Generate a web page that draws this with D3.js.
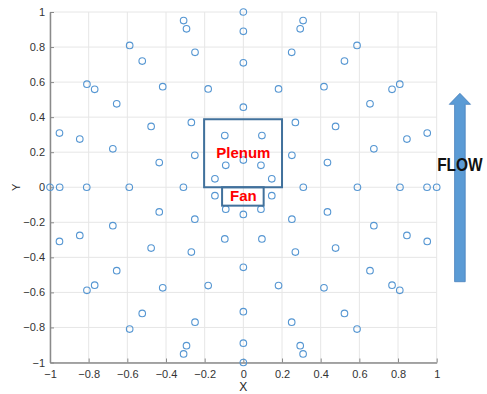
<!DOCTYPE html>
<html>
<head>
<meta charset="utf-8">
<script src="https://cdn.jsdelivr.net/npm/d3@7"></script>
<style>
  body { margin: 0; background: #fff; }
  svg { display: block; }
  .tick text { font-family: "Liberation Sans Narrow", "Arial Narrow", "Liberation Sans", sans-serif; font-size: 11px; fill: #333; }
  .axis-label { font-family: "Liberation Sans", Arial, sans-serif; font-size: 11px; fill: #262626; }
</style>
</head>
<body>
<div id="chart"></div>
<script>
// probe positions, one ring per array ([x, y])
const ring100 = [[1, 0], [0.951, 0.309], [0.809, 0.588], [0.588, 0.809], [0.309, 0.951], [0, 1], [-0.309, 0.951], [-0.588, 0.809], [-0.809, 0.588], [-0.951, 0.309],
  [-1, 0], [-0.951, -0.309], [-0.809, -0.588], [-0.588, -0.809], [-0.309, -0.951], [0, -1], [0.309, -0.951], [0.588, -0.809], [0.809, -0.588], [0.951, -0.309]];
const ring095 = [[0.95, 0], [0.769, 0.559], [0.294, 0.904], [-0.294, 0.904], [-0.769, 0.559], [-0.95, 0], [-0.769, -0.559], [-0.294, -0.904], [0.294, -0.904], [0.769, -0.559]];
const ring089 = [[0.846, 0.275], [0.523, 0.72], [0, 0.89], [-0.523, 0.72], [-0.846, 0.275], [-0.846, -0.275], [-0.523, -0.72], [0, -0.89], [0.523, -0.72], [0.846, -0.275]];
const ring081 = [[0.81, 0], [0.655, 0.476], [0.25, 0.77], [-0.25, 0.77], [-0.655, 0.476], [-0.81, 0], [-0.655, -0.476], [-0.25, -0.77], [0.25, -0.77], [0.655, -0.476]];
const ring071 = [[0.675, 0.219], [0.417, 0.574], [0, 0.71], [-0.417, 0.574], [-0.675, 0.219], [-0.675, -0.219], [-0.417, -0.574], [0, -0.71], [0.417, -0.574], [0.675, -0.219]];
const ring059 = [[0.59, 0], [0.477, 0.347], [0.182, 0.561], [-0.182, 0.561], [-0.477, 0.347], [-0.59, 0], [-0.477, -0.347], [-0.182, -0.561], [0.182, -0.561], [0.477, -0.347]];
const ring046 = [[0.435, 0.141], [0.269, 0.37], [0, 0.457], [-0.269, 0.37], [-0.435, 0.141], [-0.435, -0.141], [-0.269, -0.37], [0, -0.457], [0.269, -0.37], [0.435, -0.141]];
const ring031 = [[0.31, 0], [0.251, 0.182], [0.096, 0.295], [-0.096, 0.295], [-0.251, 0.182], [-0.31, 0], [-0.251, -0.182], [-0.096, -0.295], [0.096, -0.295], [0.251, -0.182]];
const ring016 = [[0.147, 0.048], [0.091, 0.125], [0, 0.155], [-0.091, 0.125], [-0.147, 0.048], [-0.147, -0.048], [-0.091, -0.125], [0, -0.155], [0.091, -0.125], [0.147, -0.048]];

// annotation boxes in data units: [x0, x1, y0, y1]
const plenumBox = [-0.203, 0.2, 0, 0.388];
const fanBox = [-0.11, 0.105, -0.105, 0];
const labels = [
  { text: "Plenum", x: 0, y: 0.165 },
  { text: "Fan", x: 0, y: -0.077 }
];
// flow arrow: centre x, tip, head base, tail (data units)
const flowArrow = { x: 1.12, tip: 0.536, head: 0.473, tail: -0.539, shaftHalf: 0.0275, headHalf: 0.055 };

const width = 487, height = 394;
const margin = { top: 12, right: 50.3, bottom: 31.5, left: 50 };
const w = width - margin.left - margin.right;
const h = height - margin.top - margin.bottom;

const svg = d3.select("#chart").append("svg")
  .attr("width", width)
  .attr("height", height);

const g = svg.append("g").attr("transform", `translate(${margin.left},${margin.top})`);
const xScale = d3.scaleLinear().domain([-1, 1]).range([0, w]);
const yScale = d3.scaleLinear().domain([-1, 1]).range([h, 0]);
const ticks = xScale.ticks(10);
const fmt = d3.format("");

// grid
g.append("g").selectAll("line.gx")
  .data(ticks)
  .enter().append("line")
  .attr("x1", d => xScale(d)).attr("x2", d => xScale(d))
  .attr("y1", 0).attr("y2", h)
  .attr("stroke", "#e6e6e6").attr("stroke-width", 1);
g.append("g").selectAll("line.gy")
  .data(ticks)
  .enter().append("line")
  .attr("x1", 0).attr("x2", w)
  .attr("y1", d => yScale(d)).attr("y2", d => yScale(d))
  .attr("stroke", "#e6e6e6").attr("stroke-width", 1);

// axes, ticks pointing inward
const xAxis = g.append("g")
  .attr("transform", `translate(0,${h})`)
  .call(d3.axisBottom(xScale).tickValues(ticks).tickFormat(fmt).tickSizeInner(-4).tickSizeOuter(0).tickPadding(8));
const yAxis = g.append("g")
  .call(d3.axisLeft(yScale).tickValues(ticks).tickFormat(fmt).tickSizeInner(-4).tickSizeOuter(0).tickPadding(5));
[xAxis, yAxis].forEach(a => {
  a.select(".domain").attr("stroke", "#8a8a8a").attr("stroke-width", 1.5);
  a.selectAll(".tick line").attr("stroke", "#8a8a8a");
});

svg.append("text")
  .attr("class", "axis-label")
  .attr("x", margin.left + xScale(0))
  .attr("y", 391)
  .attr("text-anchor", "middle")
  .style("font-size", "12px")
  .text("X");
svg.append("text")
  .attr("class", "axis-label")
  .attr("transform", `translate(20,${margin.top + yScale(0)}) rotate(-90)`)
  .attr("text-anchor", "middle")
  .text("Y");

// probes
const rings = [ring100, ring095, ring089, ring081, ring071, ring059, ring046, ring031, ring016];
g.append("g").selectAll("g.ring")
  .data(rings)
  .enter().append("g")
  .selectAll("circle")
  .data(d => d)
  .enter().append("circle")
  .attr("cx", d => xScale(d[0]))
  .attr("cy", d => yScale(d[1]))
  .attr("r", 3.3)
  .attr("fill", "none")
  .attr("stroke", "#5596d2")
  .attr("stroke-width", 1.1);

// plenum / fan boxes
g.selectAll("rect.box")
  .data([plenumBox, fanBox])
  .enter().append("rect")
  .attr("x", d => xScale(d[0]))
  .attr("y", d => yScale(d[3]))
  .attr("width", d => xScale(d[1]) - xScale(d[0]))
  .attr("height", d => yScale(d[2]) - yScale(d[3]))
  .attr("fill", "none")
  .attr("stroke", "#41719c")
  .attr("stroke-width", 2);

g.selectAll("text.lbl")
  .data(labels)
  .enter().append("text")
  .attr("x", d => xScale(d.x))
  .attr("y", d => yScale(d.y))
  .attr("text-anchor", "middle")
  .style("font-family", "'Liberation Sans', Arial, sans-serif")
  .style("font-weight", "bold")
  .style("font-size", "15px")
  .attr("fill", "#ff0000")
  .text(d => d.text);

// flow arrow
const a = flowArrow;
const arrowPts = [
  [a.x - a.shaftHalf, a.tail], [a.x - a.shaftHalf, a.head], [a.x - a.headHalf, a.head],
  [a.x, a.tip], [a.x + a.headHalf, a.head], [a.x + a.shaftHalf, a.head], [a.x + a.shaftHalf, a.tail]
];
g.append("path")
  .attr("d", d3.line().x(d => xScale(d[0])).y(d => yScale(d[1]))(arrowPts) + "Z")
  .attr("fill", "#5b9bd5")
  .attr("stroke", "#4a82bd")
  .attr("stroke-width", 0.8);

// narrow bold label, squeezed horizontally
g.append("g")
  .attr("transform", `translate(${xScale(a.x)},${yScale(0.093)}) scale(0.86,1)`)
  .append("text")
  .attr("text-anchor", "middle")
  .style("font-family", "'Liberation Sans', Arial, sans-serif")
  .style("font-weight", "bold")
  .style("font-size", "18px")
  .attr("fill", "#111")
  .text("FLOW");
</script>
</body>
</html>
